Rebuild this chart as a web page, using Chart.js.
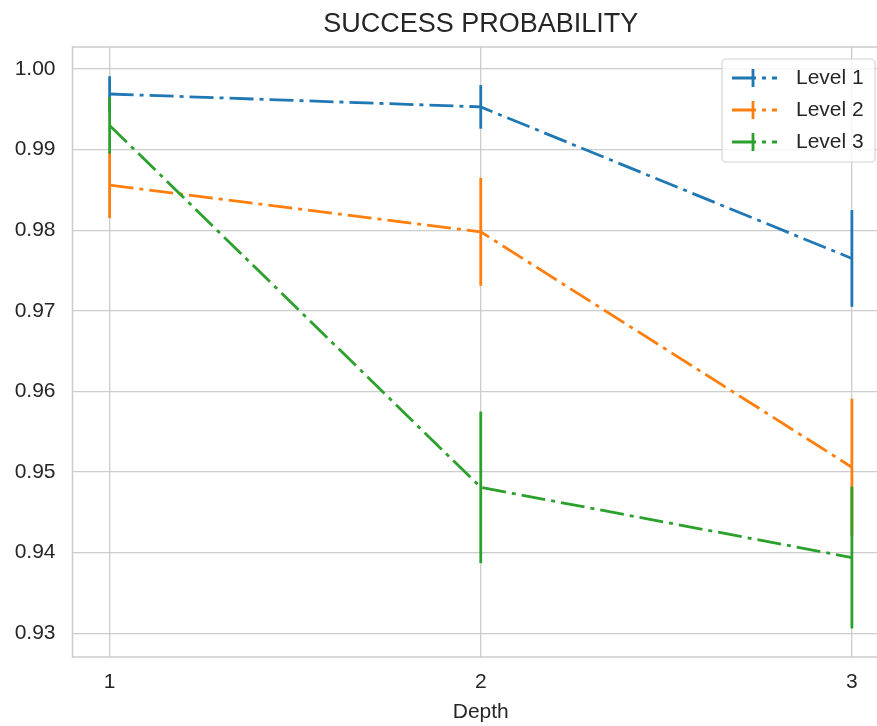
<!DOCTYPE html>
<html>
<head>
<meta charset="utf-8">
<script src="https://cdn.jsdelivr.net/npm/chart.js@4"></script>
<style>
  html, body { margin: 0; padding: 0; overflow: hidden; background: #fff; }
</style>
</head>
<body>
<canvas id="chrt" width="961" height="726"></canvas>
<script>
const depths = [1, 2, 3];
const levels = ['Level 1', 'Level 2', 'Level 3'];
const level1 = [0.9969, 0.9953, 0.9765];
const level2 = [0.9856, 0.9798, 0.9506];
const level3 = [0.9930, 0.9481, 0.9394];
const err1 = [0.0022, 0.0027, 0.0060];
const err2 = [0.0041, 0.0067, 0.0085];
const err3 = [0.0035, 0.0094, 0.0088];
const yTicks = [0.93, 0.94, 0.95, 0.96, 0.97, 0.98, 0.99, 1.00];

let colors = ['#1f77b4', '#ff7f0e', '#2ca02c'];
let series = [level1, level2, level3];
let errs = [err1, err2, err3];
let dash = [24, 6, 4, 6];
let font = "'Liberation Sans', Arial, sans-serif";

// error bars drawn after each dataset, through the chart scales
const errorBars = {
    id: 'errorBars',
    afterDatasetDraw(chart, args) {
        let i = args.index;
        let ctx = chart.ctx;
        let xs = chart.scales.x, ys = chart.scales.y;
        ctx.save();
        ctx.strokeStyle = colors[i];
        ctx.lineWidth = 2.8;
        ctx.setLineDash([]);
        for (let k = 0; k < depths.length; k++) {
            let px = xs.getPixelForValue(depths[k]);
            ctx.beginPath();
            ctx.moveTo(px, ys.getPixelForValue(series[i][k] + errs[i][k]));
            ctx.lineTo(px, ys.getPixelForValue(series[i][k] - errs[i][k]));
            ctx.stroke();
        }
        ctx.restore();
    }
};

// frame around plot area + legend box
const frameAndLegend = {
    id: 'frameAndLegend',
    beforeDatasetsDraw(chart) {
        let a = chart.chartArea, ctx = chart.ctx;
        ctx.save();
        ctx.strokeStyle = '#cccccc';
        ctx.lineWidth = 1.5;
        ctx.strokeRect(a.left, a.top, a.right - a.left, a.bottom - a.top);
        ctx.restore();
    },
    afterDraw(chart) {
        let ctx = chart.ctx;
        let bx = 722, by = 59, bw = 153, bh = 103;
        ctx.save();
        ctx.fillStyle = 'rgba(255,255,255,0.8)';
        ctx.strokeStyle = '#d4d4d4';
        ctx.lineWidth = 1.2;
        ctx.beginPath();
        ctx.roundRect(bx, by, bw, bh, 4);
        ctx.fill();
        ctx.stroke();
        chart.data.datasets.forEach(function(ds, i) {
            let cy = 78 + i * 32;
            ctx.strokeStyle = colors[i];
            ctx.lineWidth = 2.8;
            ctx.setLineDash(dash);
            ctx.beginPath();
            ctx.moveTo(732, cy);
            ctx.lineTo(777, cy);
            ctx.stroke();
            ctx.setLineDash([]);
            ctx.beginPath();
            ctx.moveTo(753, cy - 9);
            ctx.lineTo(753, cy + 9);
            ctx.stroke();
            ctx.fillStyle = '#262626';
            ctx.font = '21px ' + font;
            ctx.textBaseline = 'middle';
            ctx.textAlign = 'left';
            ctx.fillText(ds.label, 796, cy);
        });
        ctx.restore();
    }
};

let chdata = {
    datasets: levels.map(function(name, i) {
        return {
            label: name,
            data: depths.map((d, k) => ({x: d, y: series[i][k]})),
            borderColor: colors[i],
            backgroundColor: colors[i],
            borderWidth: 2.8,
            borderDash: dash,
            borderCapStyle: 'butt',
            pointRadius: 0,
            tension: 0,
            fill: false,
            order: 3 - i
        };
    })
};

let chopts = {
    responsive: false,
    animation: false,
    layout: { padding: { left: 0, right: 72, top: 0, bottom: 0 } },
    plugins: {
        legend: { display: false },
        tooltip: { enabled: false },
        title: {
            display: true,
            fullSize: false,
            text: 'SUCCESS PROBABILITY',
            color: '#262626',
            font: { family: font, size: 27, weight: 'normal' },
            padding: { top: 8, bottom: 6.6 }
        }
    },
    scales: {
        x: {
            type: 'linear',
            min: 0.9,
            max: 3.1,
            afterBuildTicks: function(scale) { scale.ticks = depths.map(v => ({value: v})); },
            afterFit: function(scale) { scale.height = 69; },
            grid: { color: '#cccccc', lineWidth: 1.3, drawTicks: false },
            border: { display: false },
            ticks: { color: '#262626', font: { family: font, size: 21 }, padding: 13 },
            title: {
                display: true,
                text: 'Depth',
                color: '#262626',
                font: { family: font, size: 21 },
                padding: { top: 0, bottom: 1 }
            }
        },
        y: {
            min: 0.92706,
            max: 1.00273,
            afterBuildTicks: function(scale) { scale.ticks = yTicks.map(v => ({value: v})); },
            afterFit: function(scale) { scale.width = 72.5; },
            grid: { color: '#cccccc', lineWidth: 1.3, drawTicks: false },
            border: { display: false },
            ticks: {
                color: '#262626',
                font: { family: font, size: 21 },
                padding: 17,
                callback: v => v.toFixed(2)
            }
        }
    }
};

let chrt = document.getElementById("chrt").getContext("2d");
let myChart = new Chart(chrt, {
    type: 'line',
    data: chdata,
    options: chopts,
    plugins: [errorBars, frameAndLegend]
});
</script>
</body>
</html>
